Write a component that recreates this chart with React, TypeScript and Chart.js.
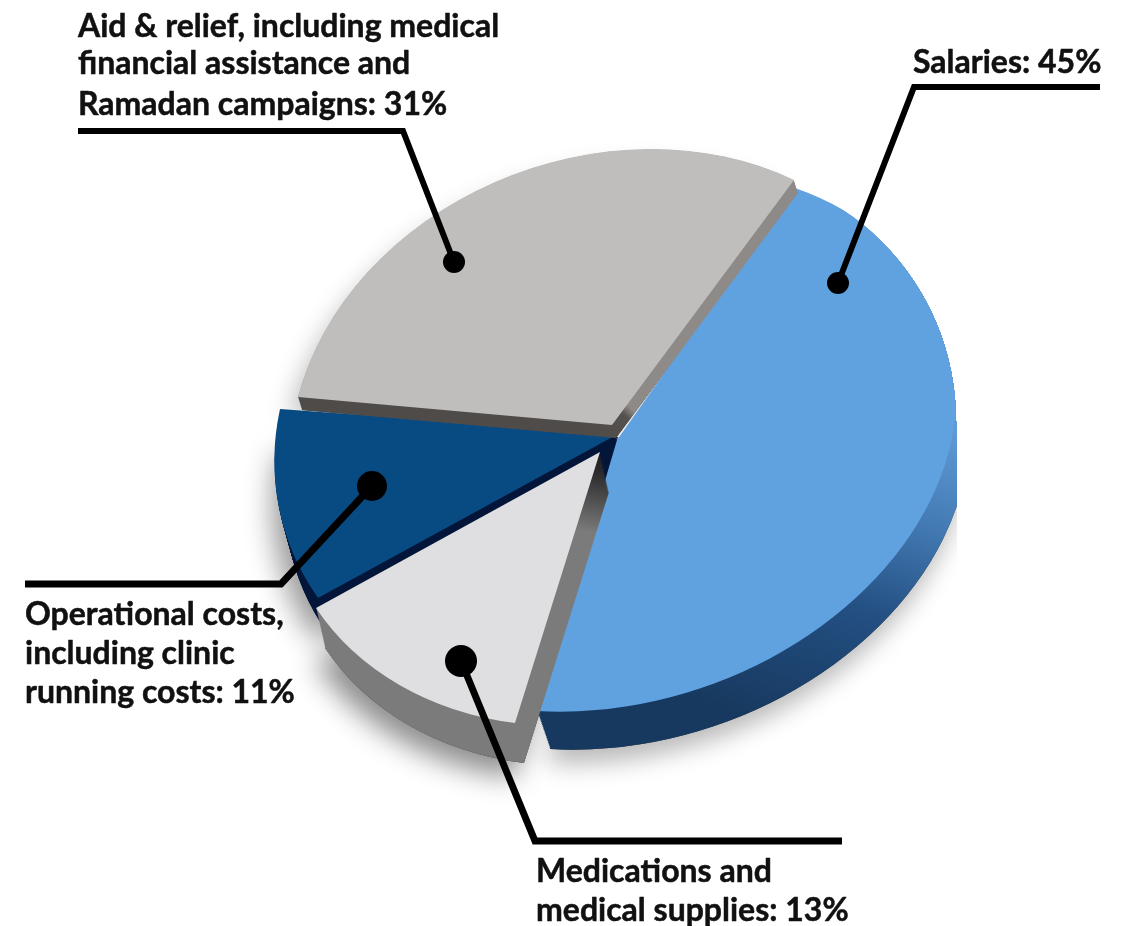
import React, { useEffect, useRef } from "react";
import { Chart, registerables } from "chart.js";

Chart.register(...registerables);

const categories = ["Salaries", "Medications and medical supplies", "Operational costs, including clinic running costs", "Aid & relief, including medical financial assistance and Ramadan campaigns"];
const shares = [45, 13, 11, 31];
const topColors = ["#60a1e0", "#dfdfe1", "#084a82", "#bfbebd"];

const FONT = "bold 32px Lato";

const callouts = [
  { lines: ["Salaries: 45%"], x: 913, baselines: [73], path: [[1100, 87], [914, 87], [838, 283]], dot: 11, width: 6 },
  { lines: ["Aid & relief, including medical", "financial assistance and", "Ramadan campaigns: 31%"], x: 78, baselines: [37, 74, 115], path: [[78, 131], [403, 131], [454, 262]], dot: 11, width: 6 },
  { lines: ["Operational costs,", "including clinic", "running costs: 11%"], x: 25, baselines: [625, 664, 703], path: [[25, 584], [281, 584], [372, 486]], dot: 15, width: 7 },
  { lines: ["Medications and", "medical supplies: 13%"], x: 536, baselines: [882, 921], path: [[842, 841], [535, 841], [461, 661]], dot: 16, width: 7 },
];

// Per-slice tilt of the pie: where the slice tip and its two radial edges land on the page.
const tilt = [
  {
    apex: [617, 440], from: [178, -252], to: [-80, 271], depth: [13, 38],
    side: [950, 430, 760, 720, [[0, "#5f9ad6"], [0.3, "#4279b2"], [0.6, "#234f82"], [1, "#17395f"]]],
    shadow: [-4, 14, 24, "rgba(0,0,0,0.28)"], trim: [702, 421, 254],
  },
  {
    apex: [600, 452], from: [-284, 156], to: [-85, 271], depth: [9, 40],
    side: [608, 440, 575, 530, [[0, "#141416"], [0.35, "#2a2a2c"], [1, "#7b7b7b"]]],
    shadow: [-10, 14, 28, "rgba(0,0,0,0.45)"],
  },
  {
    apex: [618, 434], from: [-300, 164], to: [-338, -25], depth: [10, 36],
    side: [0, 0, 0, 926, [[0, "#031538"], [1, "#031538"]]],
    shadow: [-12, 8, 28, "rgba(0,0,0,0.40)"],
  },
  {
    apex: [612, 425], from: [-314, -28], to: [182, -245], depth: [4, 13],
    side: [590, 435, 640, 395, [[0, "#4f4b49"], [0.6, "#55514f"], [0.75, "#8e8a87"], [1, "#8e8a87"]]],
    shadow: [-12, 6, 26, "rgba(0,0,0,0.28)"],
  },
];
const sideOrder = [2, 0, 3, 1];
const clipRight = 957;

function matrix(arc: any, t: any) {
  const R = arc.outerRadius;
  const cs = Math.cos(arc.startAngle), ss = Math.sin(arc.startAngle);
  const ce = Math.cos(arc.endAngle), se = Math.sin(arc.endAngle);
  const det = (cs * se - ce * ss) * R;
  return [
    (t.from[0] * se - t.to[0] * ss) / det,
    (t.from[1] * se - t.to[1] * ss) / det,
    (-t.from[0] * ce + t.to[0] * cs) / det,
    (-t.from[1] * ce + t.to[1] * cs) / det,
  ];
}

function paint(ctx: CanvasRenderingContext2D, arc: any, t: any, m: number[], ox: number, oy: number, fill: any) {
  const original = arc.options;
  arc.options = { ...original, backgroundColor: fill, borderWidth: 0 };
  ctx.save();
  ctx.translate(t.apex[0] + ox, t.apex[1] + oy);
  ctx.transform(m[0], m[1], m[2], m[3], 0, 0);
  ctx.translate(-arc.x, -arc.y);
  arc.draw(ctx);
  ctx.restore();
  arc.options = original;
}

function sideFill(ctx: CanvasRenderingContext2D, arc: any, t: any, m: number[], ox: number, oy: number) {
  const det = m[0] * m[3] - m[1] * m[2];
  const local = (px: number, py: number) => {
    const dx = px - t.apex[0] - ox, dy = py - t.apex[1] - oy;
    return [(m[3] * dx - m[2] * dy) / det + arc.x, (-m[1] * dx + m[0] * dy) / det + arc.y];
  };
  const a = local(t.side[0], t.side[1]), b = local(t.side[2], t.side[3]);
  const g = ctx.createLinearGradient(a[0], a[1], b[0], b[1]);
  t.side[4].forEach((s: any) => g.addColorStop(s[0], s[1]));
  return g;
}

function applyTrim(ctx: CanvasRenderingContext2D, t: any) {
  if (!t.trim) return;
  const [cx, cy, r] = t.trim;
  ctx.beginPath();
  ctx.arc(cx, cy, r, 0, Math.PI * 2);
  ctx.rect(0, cy, 1127, 926);
  ctx.rect(0, 0, cx, 926);
  ctx.clip();
}

const tiltedPie = {
  id: "tiltedPie",
  beforeDatasetsDraw(chart: any) {
    const ctx: CanvasRenderingContext2D = chart.ctx;
    const arcs = chart.getDatasetMeta(0).data;
    ctx.save();
    ctx.beginPath();
    ctx.rect(0, 0, clipRight, 926);
    ctx.clip();
    sideOrder.forEach((i) => {
      const arc = arcs[i], t: any = tilt[i];
      const m = matrix(arc, t);
      ctx.save();
      applyTrim(ctx, t);
      ctx.shadowOffsetX = t.shadow[0];
      ctx.shadowOffsetY = t.shadow[1];
      ctx.shadowBlur = t.shadow[2];
      ctx.shadowColor = t.shadow[3];
      paint(ctx, arc, t, m, t.depth[0], t.depth[1], "#333333");
      ctx.restore();
    });
    sideOrder.forEach((i) => {
      const arc = arcs[i], t: any = tilt[i];
      const m = matrix(arc, t);
      ctx.save();
      applyTrim(ctx, t);
      const layers = 24;
      for (let k = layers; k >= 1; k--) {
        const ox = (t.depth[0] * k) / layers, oy = (t.depth[1] * k) / layers;
        paint(ctx, arc, t, m, ox, oy, sideFill(ctx, arc, t, m, ox, oy));
      }
      paint(ctx, arc, t, m, 0, 0, topColors[i]);
      ctx.restore();
    });
    ctx.restore();
    return false;
  },
  afterDraw(chart: any) {
    const ctx: CanvasRenderingContext2D = chart.ctx;
    ctx.save();
    ctx.strokeStyle = "#000000";
    ctx.fillStyle = "#000000";
    ctx.lineJoin = "miter";
    callouts.forEach((c) => {
      ctx.lineWidth = c.width;
      ctx.beginPath();
      c.path.forEach((p, k) => (k ? ctx.lineTo(p[0], p[1]) : ctx.moveTo(p[0], p[1])));
      ctx.stroke();
      const end = c.path[c.path.length - 1];
      ctx.beginPath();
      ctx.arc(end[0], end[1], c.dot, 0, Math.PI * 2);
      ctx.fill();
    });
    ctx.font = FONT;
    ctx.textBaseline = "alphabetic";
    ctx.textAlign = "left";
    ctx.fillStyle = "#111111";
    ctx.strokeStyle = "#111111";
    ctx.lineWidth = 0.5;
    ctx.lineJoin = "round";
    callouts.forEach((c) => {
      c.lines.forEach((line, k) => {
        ctx.fillText(line, c.x, c.baselines[k]);
        ctx.strokeText(line, c.x, c.baselines[k]);
      });
    });
    ctx.restore();
  },
};

export default function App() {
  const ref = useRef<HTMLCanvasElement>(null);
  useEffect(() => {
    const chart = new Chart(ref.current as HTMLCanvasElement, {
      type: "pie",
      data: {
        labels: categories,
        datasets: [{ data: shares, backgroundColor: topColors, borderWidth: 0 }],
      },
      options: {
        animation: false,
        responsive: false,
        events: [],
        layout: { padding: 0 },
        plugins: { legend: { display: false }, tooltip: { enabled: false } },
      },
      plugins: [tiltedPie as any],
    });
    return () => chart.destroy();
  }, []);
  return (
    <canvas
      ref={ref}
      width={1127}
      height={926}
      style={{ position: "absolute", left: 0, top: 0, display: "block", background: "#ffffff" }}
    />
  );
}
